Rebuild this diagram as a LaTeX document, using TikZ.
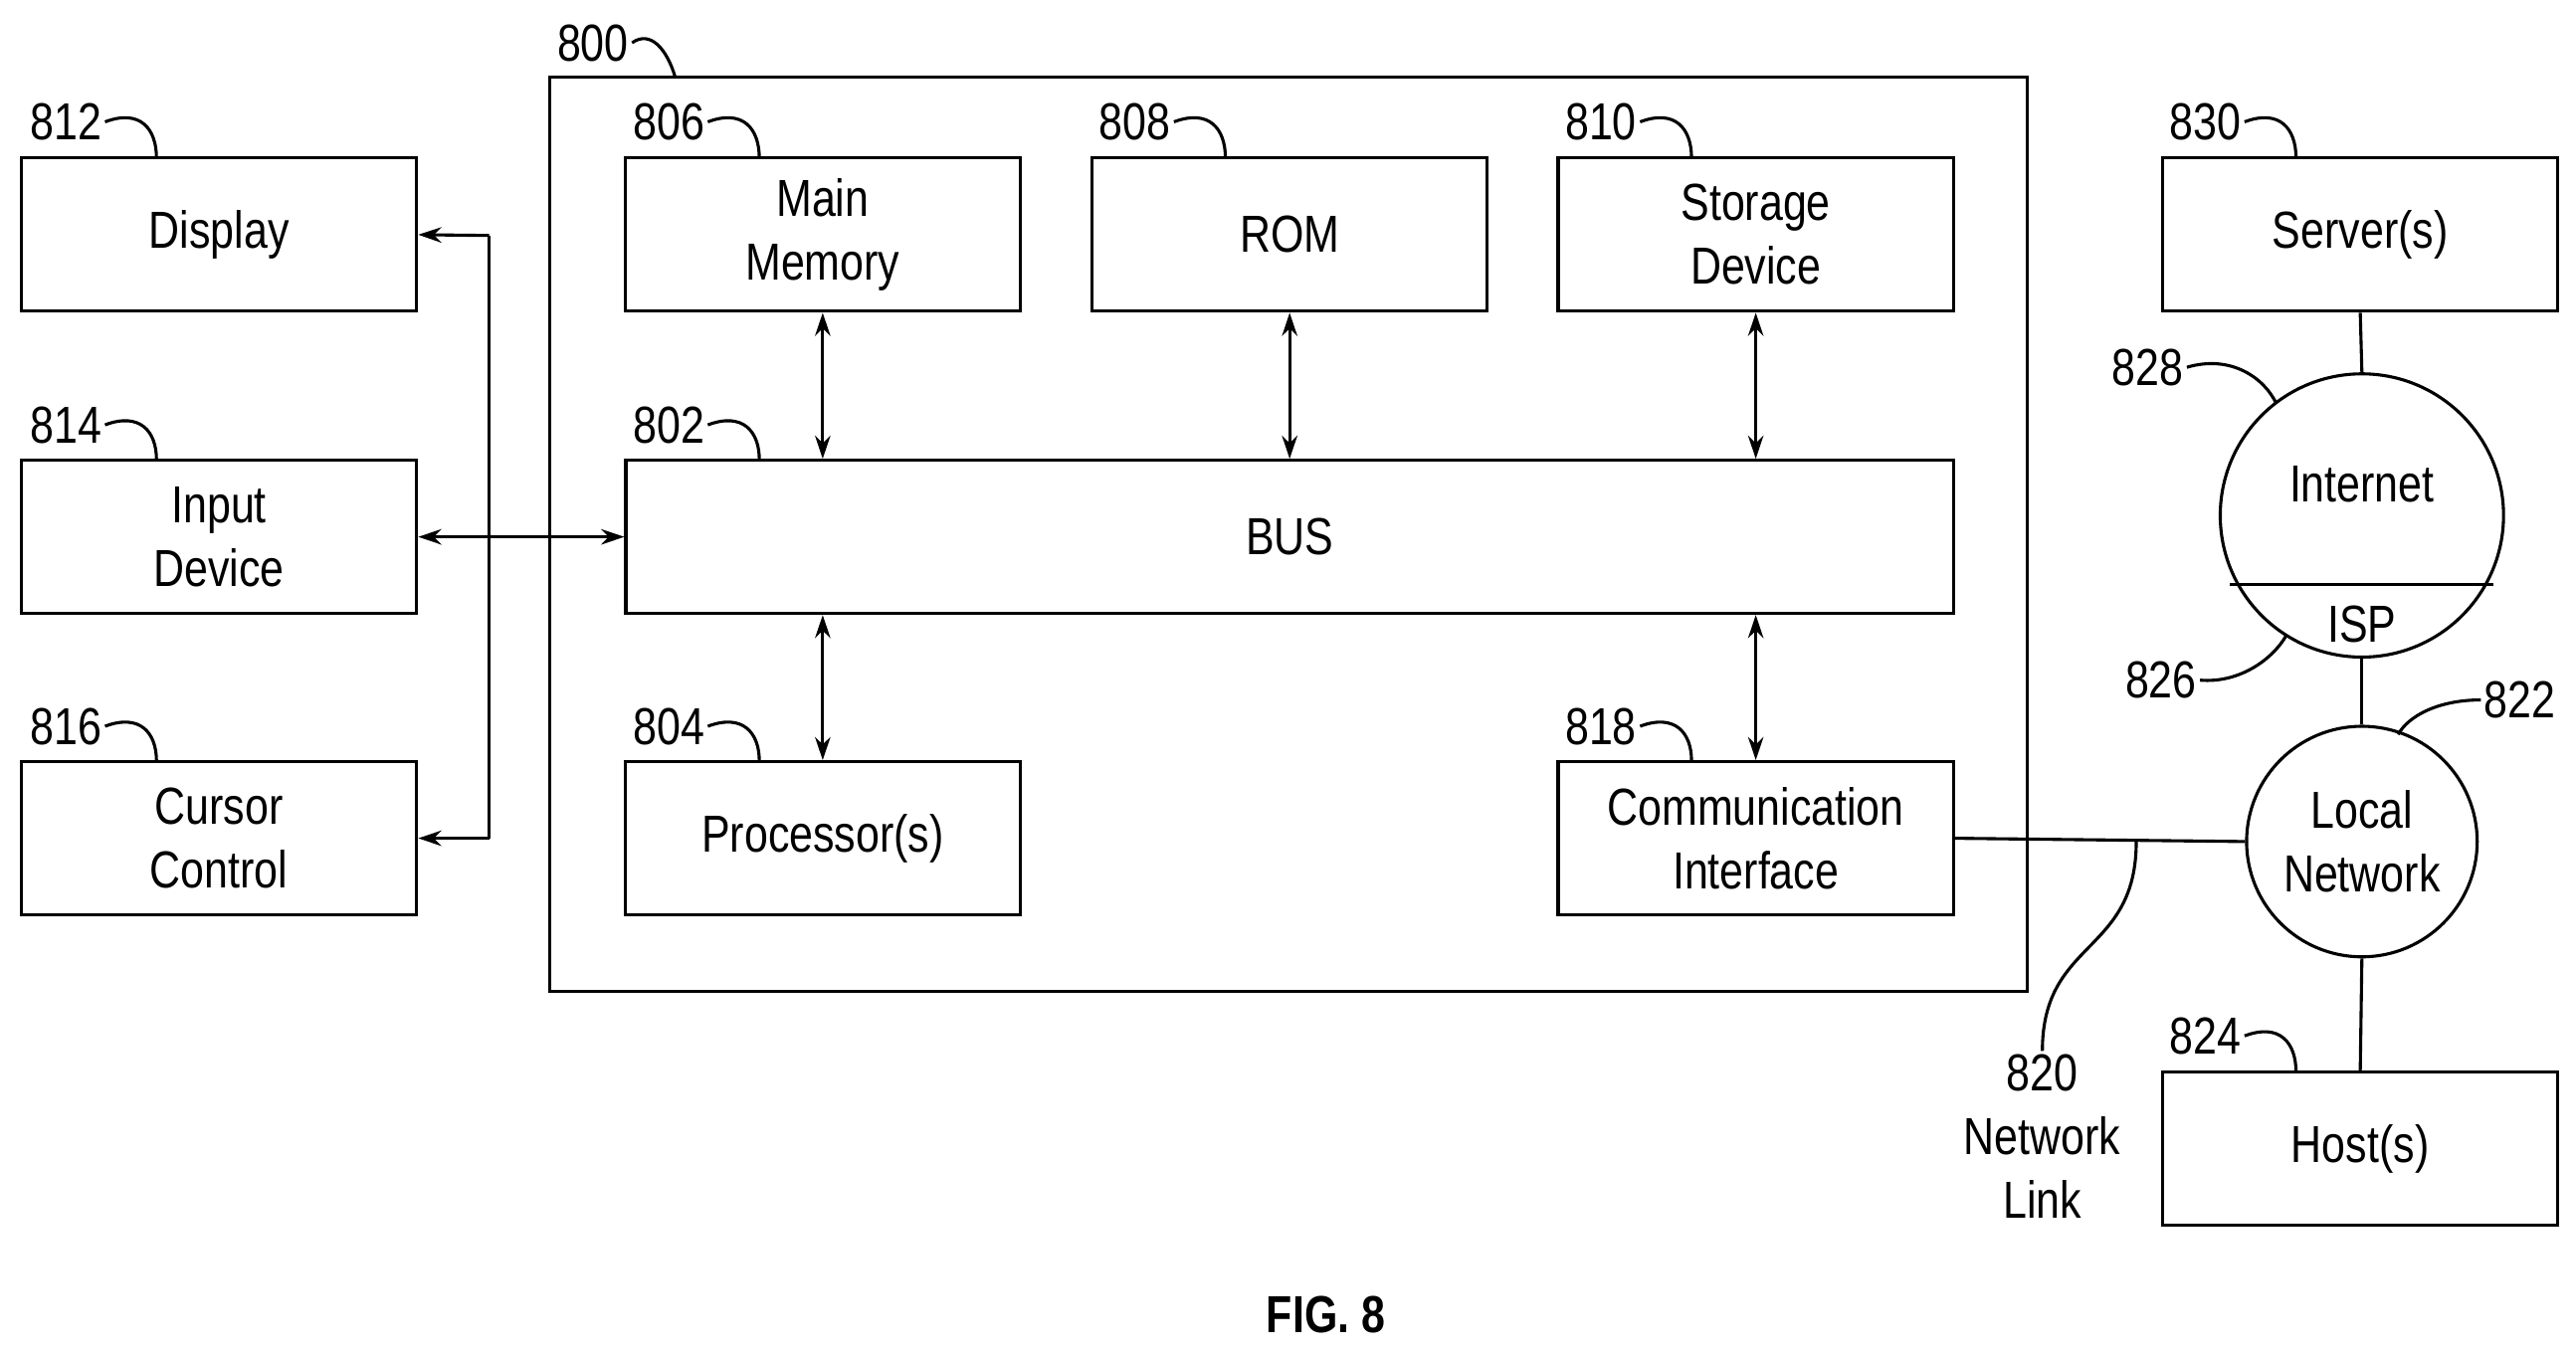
\documentclass[tikz,border=0pt]{standalone}
\usepackage{fontspec}
\setmainfont[FakeStretch=0.82]{Liberation Sans}
\usetikzlibrary{arrows.meta,calc}
\begin{document}
\begin{tikzpicture}[x=0.03cm,y=-0.03cm,line width=1.6pt,
  box/.style={draw,minimum width=240*0.03cm,minimum height=93*0.03cm,align=center,inner sep=0pt},
  txt/.style={font=\fontsize{27}{33}\selectfont},
  lab/.style={font=\fontsize{27}{33}\selectfont,inner sep=1pt},
  dar/.style={{Stealth[length=12pt,width=8pt]}-{Stealth[length=12pt,width=8pt]}},
  sar/.style={-{Stealth[length=12pt,width=8pt]}}]
\useasboundingbox (0,0) rectangle (1564,823);
\tikzset{every node/.append style={txt}}
\draw (334,47) rectangle (1231,602);
\node[box] (disp) at (133,142.5) {Display};
\node[box] (inp) at (133,326) {Input\\Device};
\node[box] (cur) at (133,509) {Cursor\\Control};
\node[box] (mem) at (499.5,142.5) {Main\\Memory};
\node[box] (rom) at (783,142.5) {ROM};
\node[box] (sto) at (1066,142.5) {Storage\\Device};
\node[box,minimum width=806*0.03cm] (bus) at (783,326) {BUS};
\node[box] (proc) at (499.5,509) {Processor(s)};
\node[box] (comm) at (1066,509) {Communication\\Interface};
\node[box] (srv) at (1433,142.5) {Server(s)};
\node[box] (host) at (1433,697.5) {Host(s)};
\node[draw,circle,minimum size=172*0.03cm,inner sep=0pt] (inet) at (1434,313) {};
\node at (1434,294) {Internet};
\node at (1434,379) {ISP};
\draw (1354,355) -- (1514,355);
\node[draw,circle,minimum size=140*0.03cm,inner sep=0pt,align=center] (lan) at (1434,511) {Local\\Network};
% bus arrows
\draw[dar] (mem.south) -- (mem.south |- bus.north);
\draw[dar] (rom.south) -- (rom.south |- bus.north);
\draw[dar] (sto.south) -- (sto.south |- bus.north);
\draw[dar] (proc.north) -- (proc.north |- bus.south);
\draw[dar] (comm.north) -- (comm.north |- bus.south);
% left
\coordinate (vt) at (297,143); \coordinate (vb) at (297,509);
\draw[sar] (vt) -- (disp.east);
\draw[sar] (vb) -- (cur.east);
\draw (vt) -- (vb);
\draw[dar] (inp.east) -- (bus.west);
% network
\draw (srv.south) -- (inet.north);
\draw (inet.south) -- (lan.north);
\draw (lan.south) -- (host.north);
\draw (comm.east) -- (lan.west);
\coordinate (nl) at (1297,511);
\node[align=center,lab] (l820) at (1240,690) {820\\Network\\Link};
\draw (nl) .. controls (1297,580) and (1240,570) .. (l820.north);
% labels
\node[lab] (l800) at (360,26) {800}; \draw (l800.east) .. controls (395,18) and (405,30) .. (410,47);
\node[lab] (l812) at (40,74) {812}; \draw (l812.east) .. controls (85,66) and (95,78) .. (95,96);
\node[lab] (l814) at (40,258) {814}; \draw (l814.east) .. controls (85,250) and (95,262) .. (95,279);
\node[lab] (l816) at (40,441) {816}; \draw (l816.east) .. controls (85,433) and (95,445) .. (95,462);
\node[lab] (l806) at (406,74) {806}; \draw (l806.east) .. controls (451,66) and (461,78) .. (461,96);
\node[lab] (l808) at (689,74) {808}; \draw (l808.east) .. controls (734,66) and (744,78) .. (744,96);
\node[lab] (l810) at (972,74) {810}; \draw (l810.east) .. controls (1017,66) and (1027,78) .. (1027,96);
\node[lab] (l802) at (406,258) {802}; \draw (l802.east) .. controls (451,250) and (461,262) .. (461,279);
\node[lab] (l804) at (406,441) {804}; \draw (l804.east) .. controls (451,433) and (461,445) .. (461,462);
\node[lab] (l818) at (972,441) {818}; \draw (l818.east) .. controls (1017,433) and (1027,445) .. (1027,462);
\node[lab] (l830) at (1339,74) {830}; \draw (l830.east) .. controls (1384,66) and (1394,78) .. (1394,96);
\node[lab] (l824) at (1339,629) {824}; \draw (l824.east) .. controls (1384,621) and (1394,633) .. (1394,651);
\node[lab] (l828) at (1304,223) {828}; \draw (l828.east) .. controls (1355,215) and (1375,230) .. (1382,245);
\node[lab] (l826) at (1312,413) {826}; \draw (l826.east) .. controls (1360,415) and (1380,400) .. (1388,386);
\node[lab] (l822) at (1530,425) {822}; \draw (l822.west) .. controls (1480,425) and (1462,435) .. (1456,446);
\node[font=\bfseries\fontsize{27}{33}\selectfont] (fig) at (805,798) {FIG. 8};
\end{tikzpicture}
\end{document}
